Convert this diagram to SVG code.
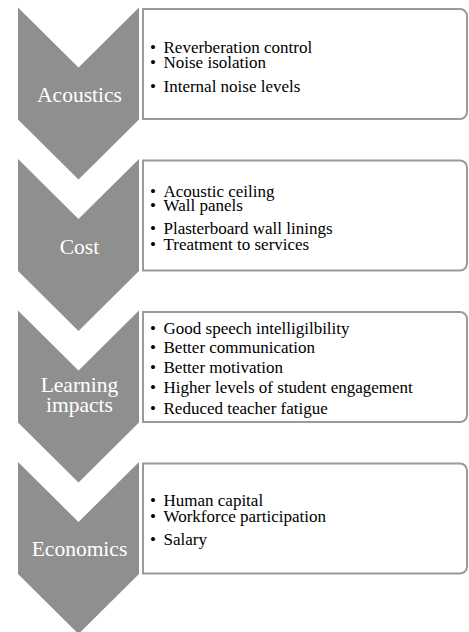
<svg xmlns="http://www.w3.org/2000/svg" width="469" height="632" viewBox="0 0 469 632">
<style>
.chev{fill:#8f8f8f}
.box{fill:#fff;stroke:#9a9a9a;stroke-width:2}
.lbl{font-family:"Liberation Serif",serif;font-size:21.5px;fill:#fff;text-anchor:middle}
.item{font-family:"Liberation Serif",serif;font-size:17px;fill:#000}
</style>
<rect width="469" height="632" fill="#fff"/>
<g id="connectors"></g>
<g id="acoustics">
<path class="chev" d="M18,7.5 L78.5,67.5 L139,7.5 V119.5 L78.5,179.5 L18,119.5 Z"/>
<text class="lbl" x="79.5" y="101.5">Acoustics</text>
</g>
<g id="acoustics-list">
<path class="box" d="M143,9 H460 A7,7 0 0 1 467,16 V112 A7,7 0 0 1 460,119 H143 Z"/>
<text class="item" y="53"><tspan x="150">•</tspan><tspan x="163.5">Reverberation control</tspan></text>
<text class="item" y="68"><tspan x="150">•</tspan><tspan x="163.5">Noise isolation</tspan></text>
<text class="item" y="91.5"><tspan x="150">•</tspan><tspan x="163.5">Internal noise levels</tspan></text>
</g>
<g id="cost">
<path class="chev" d="M18,159 L78.5,219 L139,159 V271 L78.5,331 L18,271 Z"/>
<text class="lbl" x="79.5" y="254">Cost</text>
</g>
<g id="cost-list">
<path class="box" d="M143,160.5 H460 A7,7 0 0 1 467,167.5 V263.5 A7,7 0 0 1 460,270.5 H143 Z"/>
<text class="item" y="197"><tspan x="150">•</tspan><tspan x="163.5">Acoustic ceiling</tspan></text>
<text class="item" y="211"><tspan x="150">•</tspan><tspan x="163.5">Wall panels</tspan></text>
<text class="item" y="234"><tspan x="150">•</tspan><tspan x="163.5">Plasterboard wall linings</tspan></text>
<text class="item" y="250"><tspan x="150">•</tspan><tspan x="163.5">Treatment to services</tspan></text>
</g>
<g id="learning">
<path class="chev" d="M18,310.5 L78.5,370.5 L139,310.5 V422.5 L78.5,482.5 L18,422.5 Z"/>
<text class="lbl" x="79.5" y="391.5">Learning</text>
<text class="lbl" x="79.5" y="411.5">impacts</text>
</g>
<g id="learning-list">
<path class="box" d="M143,312 H460 A7,7 0 0 1 467,319 V415 A7,7 0 0 1 460,422 H143 Z"/>
<text class="item" y="334"><tspan x="150">•</tspan><tspan x="163.5">Good speech intelligilbility</tspan></text>
<text class="item" y="353"><tspan x="150">•</tspan><tspan x="163.5">Better communication</tspan></text>
<text class="item" y="373"><tspan x="150">•</tspan><tspan x="163.5">Better motivation</tspan></text>
<text class="item" y="393"><tspan x="150">•</tspan><tspan x="163.5">Higher levels of student engagement</tspan></text>
<text class="item" y="414"><tspan x="150">•</tspan><tspan x="163.5">Reduced teacher fatigue</tspan></text>
</g>
<g id="economics">
<path class="chev" d="M18,462 L78.5,522 L139,462 V574 L78.5,634 L18,574 Z"/>
<text class="lbl" x="79.5" y="556">Economics</text>
</g>
<g id="economics-list">
<path class="box" d="M143,463.5 H460 A7,7 0 0 1 467,470.5 V566.5 A7,7 0 0 1 460,573.5 H143 Z"/>
<text class="item" y="506"><tspan x="150">•</tspan><tspan x="163.5">Human capital</tspan></text>
<text class="item" y="522"><tspan x="150">•</tspan><tspan x="163.5">Workforce participation</tspan></text>
<text class="item" y="545"><tspan x="150">•</tspan><tspan x="163.5">Salary</tspan></text>
</g>
</svg>
